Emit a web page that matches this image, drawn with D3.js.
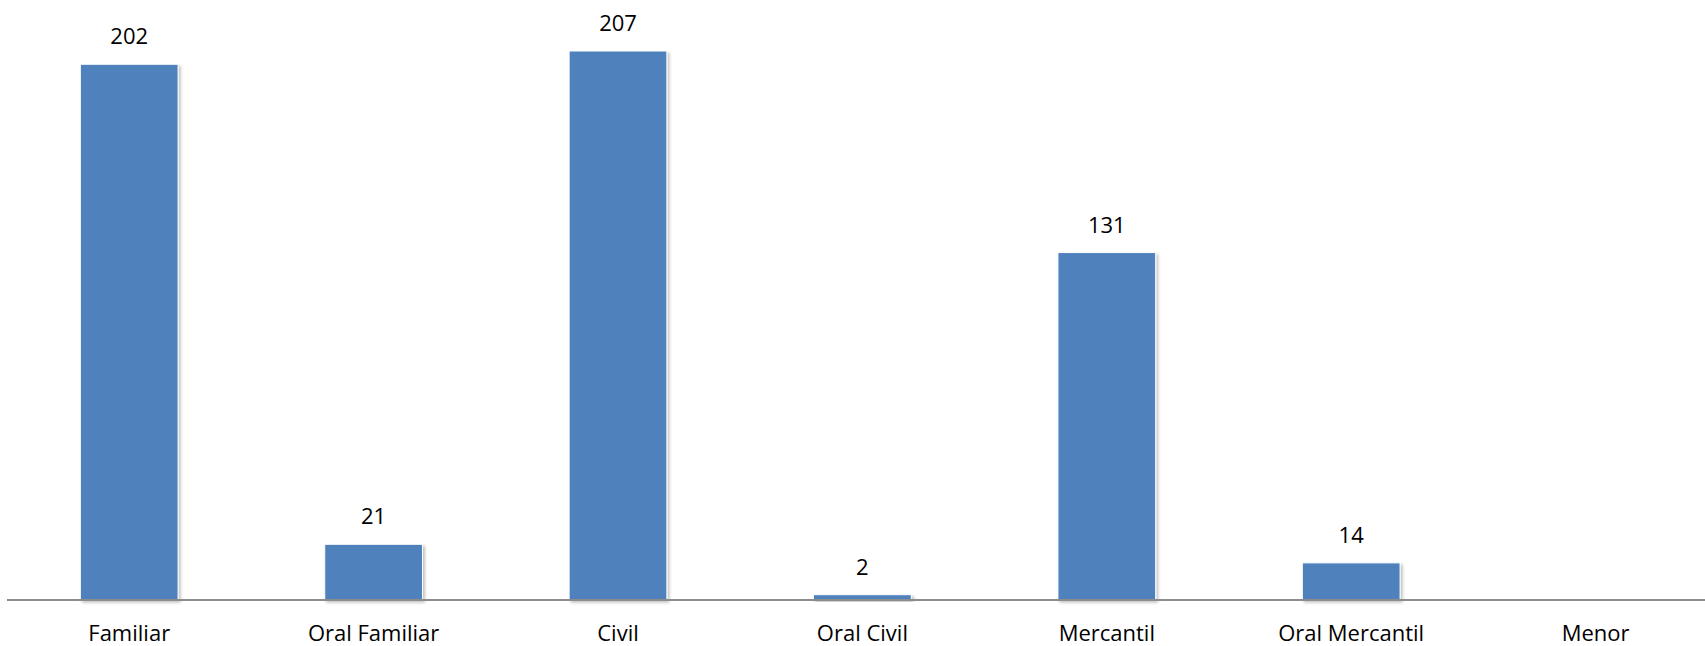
<!DOCTYPE html>
<html>
<head>
<meta charset="utf-8">
<script src="https://cdn.jsdelivr.net/npm/d3@7"></script>
<style>
  body { margin: 0; background: #fff; overflow: hidden; }
  svg { display: block; }
</style>
</head>
<body>
<div id="chart"></div>
<script>
var categories = ['Familiar', 'Oral Familiar', 'Civil', 'Oral Civil', 'Mercantil', 'Oral Mercantil', 'Menor']
var values = [202, 21, 207, 2, 131, 14, null]

var width = 1705
var height = 646
var baseY = 600
var left = 7
var band = 244.4

var svg = d3.select('#chart').append('svg')
    .attr('width', width)
    .attr('height', height)

// sombra de las barras
var defs = svg.append('defs')
var f = defs.append('filter').attr('id', 'shadow')
    .attr('x', '-10%').attr('y', '-10%').attr('width', '130%').attr('height', '130%')
f.append('feDropShadow')
    .attr('dx', 2).attr('dy', 2).attr('stdDeviation', 1.5)
    .attr('flood-color', '#000').attr('flood-opacity', 0.25)

var X = d3.scaleBand()
    .domain(categories)
    .range([left, left + band * categories.length])
    .paddingInner(0.6)
    .paddingOuter(0.3)

var Y = d3.scaleLinear()
    .domain([0, 207])
    .range([baseY, baseY - 549])

var bars = svg.append('g').attr('class', 'bars')
    .selectAll('g')
    .data(categories)
    .enter()
    .append('g')

bars.filter(function (d, i) { return values[i] != null && values[i] > 0 })
    .append('rect')
    .attr('x', function (d) { return X(d) })
    .attr('y', function (d, i) { return Y(values[categories.indexOf(d)]) })
    .attr('width', X.bandwidth())
    .attr('height', function (d) { return baseY - Y(values[categories.indexOf(d)]) })
    .attr('fill', '#4f81bd')
    .attr('stroke', '#ffffff')
    .attr('stroke-width', 1)
    .attr('filter', 'url(#shadow)')

bars.filter(function (d, i) { return values[i] != null })
    .append('text')
    .attr('x', function (d) { return X(d) + X.bandwidth() / 2 })
    .attr('y', function (d) { return Y(values[categories.indexOf(d)]) - 20 })
    .attr('text-anchor', 'middle')
    .attr('font-family', 'Open Sans, sans-serif')
    .attr('font-size', 22)
    .attr('fill', '#000')
    .text(function (d) { return values[categories.indexOf(d)] })

// eje x
var xAxis = svg.append('g')
    .attr('class', 'xAxis')
    .attr('transform', 'translate(0,' + baseY + ')')
    .call(d3.axisBottom(X).tickSize(0).tickPadding(0))
xAxis.select('.domain')
    .attr('d', 'M' + left + ',0H' + width)
    .attr('stroke', '#8c8c8c')
    .attr('stroke-width', 2)
xAxis.selectAll('text')
    .attr('y', 41)
    .attr('dy', 0)
    .attr('font-family', 'Open Sans, sans-serif')
    .attr('font-size', 22)
    .attr('fill', '#000')
</script>
</body>
</html>
